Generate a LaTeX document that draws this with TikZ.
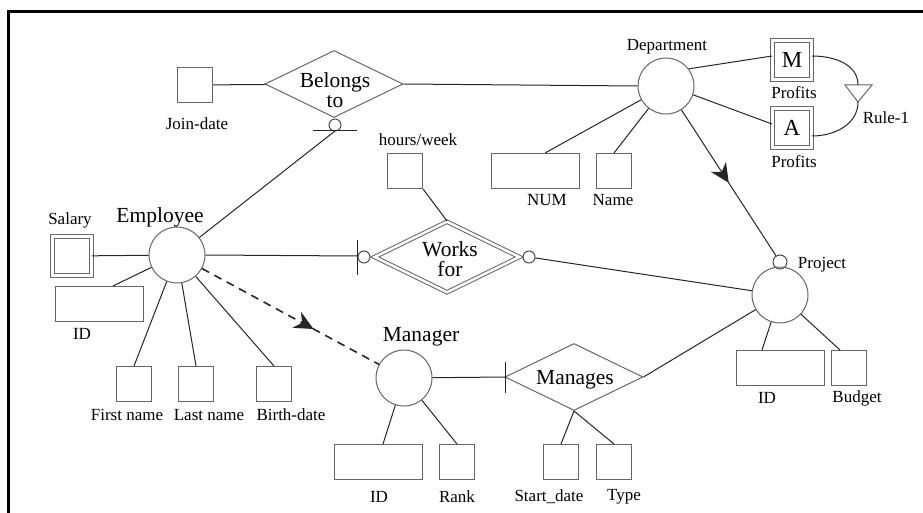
\documentclass[tikz,border=0pt]{standalone}
\usepackage{fontspec}
\setmainfont{Liberation Serif}
\usetikzlibrary{shapes.geometric,arrows.meta,decorations.markings}

\tikzset{
  ent/.style={circle, draw=black!60, minimum size=56pt, inner sep=0pt},
  attr/.style={rectangle, draw=black!60, minimum width=35pt, minimum height=35pt, inner sep=0pt},
  keyattr/.style={attr, minimum width=88pt},
  multattr/.style={attr, double, double distance=3pt, minimum width=39pt, minimum height=39pt,
    font=\fontsize{23}{23}\selectfont},
  rel/.style={diamond, draw=black!60, minimum width=138pt, minimum height=67pt, inner sep=0pt},
  ring/.style={circle, draw=black!70, minimum size=12pt, inner sep=0pt},
  lbl/.style={inner sep=0pt, font=\fontsize{17}{19}\selectfont},
  biglbl/.style={inner sep=0pt, align=center, font=\fontsize{21.5}{20}\selectfont},
  conn/.style={draw=black!85, line width=1pt},
  midarrow/.style={decoration={markings,
    mark=at position #1 with {\arrow[line width=1pt]{Stealth[length=19pt,width=18pt,inset=6pt]}}},
    postaction={decorate}},
}

\begin{document}
\begin{tikzpicture}[x=1pt,y=-1pt,line width=1pt]
  \useasboundingbox (0,0) rectangle (923,513);

  % Frame
  \draw[line width=3pt] (8,513) -- (8,12) -- (923,12);

  % Employee
  \node[ent] (emp) at (177,255) {};
  \node[biglbl] (emplbl) at (160,217) {Employee};
  \node[multattr] (salary) at (72,256) {};
  \node[lbl] (salarylbl) at (70,220) {Salary};
  \node[keyattr] (empid) at (99,304) {};
  \node[lbl] (empidlbl) at (82,334) {ID};
  \node[attr] (fname) at (134,384) {};
  \node[lbl] (fnamelbl) at (127,415) {First name};
  \node[attr] (lname) at (196,384) {};
  \node[lbl] (lnamelbl) at (209,415) {Last name};
  \node[attr] (bdate) at (274,384) {};
  \node[lbl] (bdatelbl) at (291,415) {Birth-date};
  \draw[conn] (salary) -- (emp);
  \draw[conn] ([xshift=14pt]empid.north) -- (emp);
  \draw[conn] (fname.north) -- (emp);
  \draw[conn] (lname.north) -- (emp);
  \draw[conn] (bdate.north) -- (emp);

  % Department
  \node[ent] (dept) at (666,86) {};
  \node[lbl] (deptlbl) at (667,47) {Department};
  \node[keyattr] (num) at (535,171) {};
  \node[lbl] (numlbl) at (547,200) {NUM};
  \node[attr] (dname) at (614,171) {};
  \node[lbl] (dnamelbl) at (613,200) {Name};
  \node[multattr] (mbox) at (792,60) {M};
  \node[lbl] (mprof) at (794,93) {Profits};
  \node[multattr] (abox) at (792,128) {A};
  \node[lbl] (aprof) at (794,162) {Profits};
  \draw[conn] ([xshift=10pt]num.north) -- (dept);
  \draw[conn] (dname.north) -- (dept);
  \draw[conn] (dept.37) -- ([yshift=4pt]mbox.west);
  \draw[conn] (dept.-18) -- ([yshift=4pt]abox.west);

  % Rule-1
  \coordinate (rulel) at (845,85);
  \coordinate (ruler) at (872,85);
  \coordinate (ruletop) at (858,85);
  \coordinate (ruletip) at (858,102);
  \draw[draw=black!60] (rulel) -- (ruler) -- (ruletip) -- cycle;
  \draw[conn] ([yshift=4pt]mbox.east) to[out=0,in=90] (ruletop);
  \draw[conn] (ruletip) to[out=-90,in=0] ([yshift=-8pt]abox.east);
  \node[lbl] (rulelbl) at (886,118) {Rule-1};

  % Belongs to
  \node[rel] (belongs) at (334,84) {};
  \node[biglbl] (belongslbl) at (335,90) {Belongs\\to};
  \node[attr] (joind) at (195,85) {};
  \node[lbl] (joindlbl) at (197,124) {Join-date};
  \node[ring] (belring) at (335,125) {};
  \draw[conn] (313,131) -- (357,131);
  \coordinate (belbar) at (335,131);
  \draw[conn] (joind) -- (belongs);
  \draw[conn] (belongs.east) -- (dept.west);
  \draw[conn] (belbar) -- (emp);

  % Project
  \node[ent] (proj) at (780,295) {};
  \node[ring, minimum size=14pt] (projring) at (780,262) {};
  \node[lbl] (projlbl) at (822,265) {Project};
  \node[keyattr] (projid) at (780,368) {};
  \node[lbl] (projidlbl) at (767,398) {ID};
  \node[attr] (budget) at (849,368) {};
  \node[lbl] (budgetlbl) at (857,398) {Budget};
  \draw[conn] ([xshift=-18pt]projid.north) -- (proj);
  \draw[conn] ([xshift=-9pt]budget.north) -- (proj);
  \draw[conn, midarrow=0.5] (dept) -- (projring);

  % Works for
  \node[rel, double, double distance=2.5pt, minimum width=145pt, minimum height=71pt] (works) at (447,257) {};
  \node[biglbl] (workslbl) at (450,259) {Works\\for};
  \node[attr] (hours) at (405,171) {};
  \node[lbl] (hourslbl) at (418,140) {hours/week};
  \node[ring] (wfl) at (364,257) {};
  \node[ring] (wfr) at (529,257) {};
  \draw[conn] (357,240) -- (357,275);
  \coordinate (wfbar) at (357,256);
  \draw[conn] (emp.east) -- (wfbar);
  \draw[conn] (wfr) -- (proj);
  \draw[conn] (hours.south east) -- (works.north);

  % Manager
  \node[ent] (mgr) at (404,378) {};
  \node[biglbl] (mgrlbl) at (421,337) {Manager};
  \node[keyattr] (mgrid) at (378,462) {};
  \node[lbl] (mgridlbl) at (379,497) {ID};
  \node[attr] (rank) at (457,462) {};
  \node[lbl] (ranklbl) at (457,497) {Rank};
  \draw[conn] ([xshift=5pt]mgrid.north) -- (mgr);
  \draw[conn] (rank.north) -- (mgr);
  \draw[conn, line width=1.6pt, dash pattern=on 8pt off 6pt, midarrow=0.63] (emp) -- (mgr);

  % Manages
  \node[rel] (manages) at (574,377) {};
  \node[biglbl] (manageslbl) at (575,380) {Manages};
  \draw[conn] (505,362) -- (505,393);
  \coordinate (mgbar) at (505,377);
  \node[attr] (sdate) at (561,462) {};
  \node[lbl] (sdatelbl) at (549,497) {Start\_date};
  \node[attr] (mtype) at (614,462) {};
  \node[lbl] (mtypelbl) at (624,497) {Type};
  \draw[conn] (mgr) -- (mgbar);
  \draw[conn] (manages.east) -- (proj);
  \draw[conn] (manages.south) -- (sdate.north);
  \draw[conn] (manages.south) -- (mtype.north);
\end{tikzpicture}
\end{document}
